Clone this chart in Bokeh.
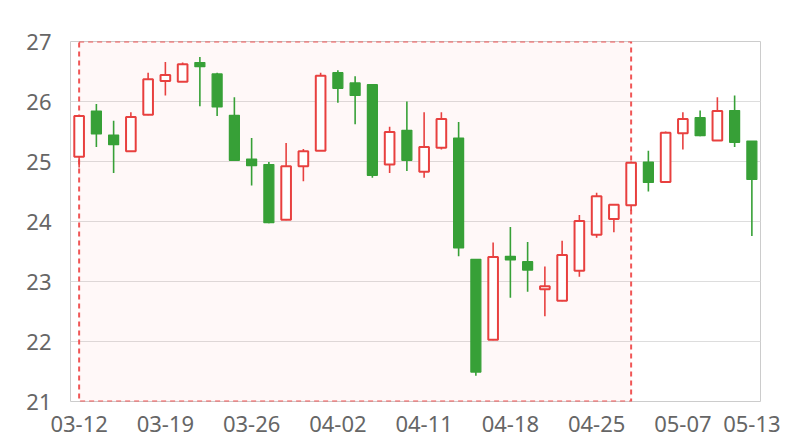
from bokeh.plotting import figure
from bokeh.models import FixedTicker, ColumnDataSource
from bokeh.embed import file_html
from bokeh.resources import INLINE

dates = ["03-12", "03-13", "03-14", "03-15", "03-16",
         "03-19", "03-20", "03-21", "03-22", "03-23",
         "03-26", "03-27", "03-28", "03-29", "03-30",
         "04-02", "04-03", "04-04", "04-09", "04-10",
         "04-11", "04-12", "04-13", "04-16", "04-17",
         "04-18", "04-19", "04-20", "04-23", "04-24",
         "04-25", "04-26", "04-27", "05-02", "05-03",
         "05-07", "05-08", "05-09", "05-10", "05-13"]
opens = [25.08, 25.84, 25.44, 25.17, 25.78, 26.34, 26.33, 26.65, 26.46, 25.77,
         25.04, 24.95, 24.03, 24.92, 25.18, 26.48, 26.31, 26.28, 24.95, 25.52,
         24.83, 25.23, 25.39, 23.37, 22.03, 23.42, 23.33, 22.87, 22.68, 23.18,
         23.78, 24.04, 24.27, 24.99, 24.66, 25.47, 25.73, 25.35, 25.85, 25.34]
closes = [25.76, 25.46, 25.28, 25.74, 26.37, 26.44, 26.62, 26.58, 25.91, 25.02,
          24.93, 23.98, 24.92, 25.17, 26.43, 26.22, 26.10, 24.77, 25.49, 25.02,
          25.24, 25.71, 23.56, 21.49, 23.41, 23.36, 23.19, 22.92, 23.44, 24.01,
          24.42, 24.28, 24.98, 24.65, 25.48, 25.71, 25.43, 25.84, 25.32, 24.70]
lows = [24.90, 25.24, 24.81, 25.16, 25.77, 26.10, 26.33, 25.92, 25.76, 25.01,
        24.60, 23.97, 24.02, 24.67, 25.18, 25.98, 25.62, 24.73, 24.81, 24.84,
        24.73, 25.20, 23.42, 21.43, 22.02, 22.73, 22.83, 22.42, 22.67, 23.08,
        23.73, 23.82, 24.18, 24.50, 24.65, 25.20, 25.42, 25.34, 25.24, 23.76]
highs = [25.77, 25.96, 25.68, 25.82, 26.48, 26.66, 26.65, 26.74, 26.48, 26.07,
         25.39, 24.99, 25.31, 25.21, 26.48, 26.52, 26.42, 26.28, 25.58, 26.00,
         25.82, 25.82, 25.66, 23.37, 23.65, 23.91, 23.66, 23.25, 23.68, 24.11,
         24.48, 24.29, 25.00, 25.18, 25.50, 25.82, 25.85, 26.07, 26.10, 25.34]

tick_dates = ["03-12", "03-19", "03-26", "04-02", "04-11", "04-18", "04-25", "05-07", "05-13"]
y_ticks = [21, 22, 23, 24, 25, 26, 27]
area_start = "03-12"
area_end = "04-27"

UP = "#e8403f"
DOWN = "#37a037"
TEXT = "#666666"

xs = list(range(len(dates)))
up = [c >= o for o, c in zip(opens, closes)]

def subset(flag):
    idx = [i for i in xs if up[i] == flag]
    return ColumnDataSource(dict(
        x=[xs[i] for i in idx],
        top=[max(opens[i], closes[i]) for i in idx],
        bottom=[min(opens[i], closes[i]) for i in idx],
        low=[lows[i] for i in idx],
        high=[highs[i] for i in idx],
    ))

src_up = subset(True)
src_dn = subset(False)

p = figure(width=792, height=440,
           x_range=(-0.5, len(dates) - 0.5), y_range=(min(y_ticks), max(y_ticks)),
           output_backend="svg", toolbar_location=None,
           min_border_left=70, min_border_right=32, min_border_top=41, min_border_bottom=39)

# mark area
p.quad(left=[dates.index(area_start)], right=[dates.index(area_end)],
       bottom=[min(y_ticks)], top=[max(y_ticks)],
       fill_color="#ff3030", fill_alpha=0.035,
       line_color="#ee4444", line_alpha=0.9, line_width=2, line_dash="5 4")

# wicks
p.segment(x0="x", y0="low", x1="x", y1="high", source=src_dn, line_color=DOWN, line_width=1.6)
p.segment(x0="x", y0="low", x1="x", y1="high", source=src_up, line_color=UP, line_width=1.6)

# bodies
p.vbar(x="x", top="top", bottom="bottom", width=0.58, source=src_dn,
       fill_color=DOWN, line_color=DOWN, line_width=1.2)
p.vbar(x="x", top="top", bottom="bottom", width=0.56, source=src_up,
       fill_color="white", line_color=UP, line_width=2)

p.outline_line_color = "#cccccc"
p.xgrid.grid_line_color = None
p.ygrid.grid_line_color = "#dddddd"
p.ygrid.ticker = FixedTicker(ticks=y_ticks)

p.xaxis.ticker = FixedTicker(ticks=[dates.index(d) for d in tick_dates])
p.xaxis.major_label_overrides = {dates.index(d): d for d in tick_dates}
p.yaxis.ticker = FixedTicker(ticks=y_ticks)

for ax in (p.xaxis, p.yaxis):
    ax.axis_line_color = None
    ax.major_tick_line_color = None
    ax.minor_tick_line_color = None
    ax.major_tick_out = 0
    ax.major_tick_in = 0
    ax.minor_tick_out = 0
    ax.major_label_text_font = "Noto Sans"
    ax.major_label_text_font_size = "22px"
    ax.major_label_text_color = TEXT

p.yaxis.major_label_standoff = 19
p.xaxis.major_label_standoff = 14

open("out.html", "w").write(file_html(p, INLINE))
